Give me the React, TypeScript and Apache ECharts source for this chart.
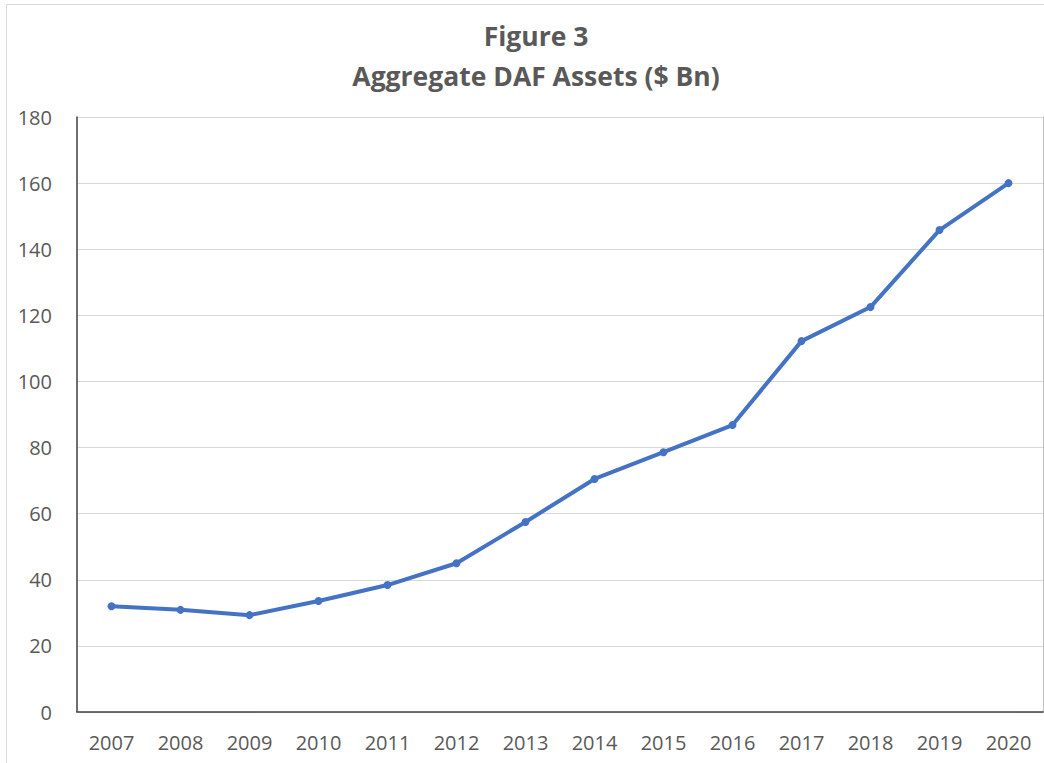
import React, { useEffect, useRef } from "react";
import * as echarts from "echarts";

const years = ["2007","2008","2009","2010","2011","2012","2013","2014","2015","2016","2017","2018","2019","2020"];
const assets = [32.0, 30.9, 29.3, 33.6, 38.4, 45.0, 57.5, 70.5, 78.6, 86.8, 112.2, 122.5, 145.8, 160.0];
const titleLines = ["Figure 3", "Aggregate DAF Assets ($ Bn)"];

export default function App() {
  const ref = useRef<HTMLDivElement>(null);
  useEffect(() => {
    document.body.style.margin = "0";
    const chart = echarts.init(ref.current!, undefined, { renderer: "svg" });
    const font = "'Open Sans', sans-serif";
    chart.setOption({
      animation: false,
      backgroundColor: "#ffffff",
      title: {
        text: titleLines.join("\n"),
        left: 531,
        top: 11,
        textAlign: "center",
        textStyle: { fontFamily: font, fontWeight: "bold", fontSize: 26.5, color: "#595959", lineHeight: 40 },
      },
      graphic: [
        { type: "rect", shape: { x: 6.5, y: 4.5, width: 1100, height: 800 }, style: { fill: "none", stroke: "#d9d9d9", lineWidth: 1 }, silent: true, z: -1 },
      ],
      grid: { left: 77, top: 117, right: 1, bottom: 51, containLabel: false },
      xAxis: [
        {
          type: "category",
          data: years,
          boundaryGap: true,
          axisLine: { show: true, lineStyle: { color: "#d9d9d9", width: 1 } },
          axisTick: { show: false },
          axisLabel: { fontFamily: font, fontSize: 20, color: "#595959", margin: 20, interval: 0 },
        },
        {
          type: "category",
          data: years,
          position: "top",
          axisLine: { show: true, lineStyle: { color: "#404040", width: 1.5 } },
          axisTick: { show: false },
          axisLabel: { show: false },
        },
      ],
      yAxis: [
        {
          type: "value",
          min: 0,
          max: 180,
          interval: 20,
          axisLine: { show: true, lineStyle: { color: "#404040", width: 1.5 } },
          axisTick: { show: false },
          axisLabel: { fontFamily: font, fontSize: 20, color: "#595959", margin: 25 },
          splitLine: { show: true, lineStyle: { color: "#d9d9d9", width: 1 } },
        },
        {
          type: "value",
          min: 0,
          max: 180,
          interval: 20,
          position: "right",
          axisLine: { show: true, lineStyle: { color: "#bfbfbf", width: 1 } },
          axisTick: { show: false },
          axisLabel: { show: false },
          splitLine: { show: false },
        },
      ],
      series: [
        {
          type: "line",
          data: assets,
          xAxisIndex: 0,
          yAxisIndex: 0,
          symbol: "circle",
          symbolSize: 8,
          lineStyle: { color: "#4472C4", width: 4 },
          itemStyle: { color: "#4472C4" },
        },
      ],
    });
    return () => chart.dispose();
  }, []);
  return <div ref={ref} style={{ width: 1044, height: 763 }} />;
}
